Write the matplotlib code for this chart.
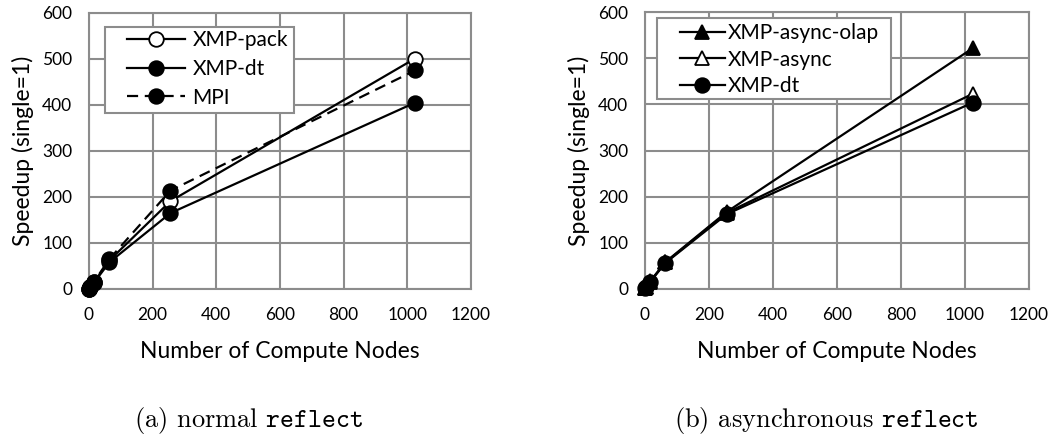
import numpy as np
import matplotlib
matplotlib.use("Agg")
import matplotlib.pyplot as plt
from matplotlib.patches import Rectangle

# compute nodes
nodes = [1, 4, 16, 64, 256, 1024]

# (a) normal reflect
xmp_pack = [1, 4, 15, 62, 191, 501]
xmp_dt = [1, 4, 14, 58, 165, 405]
mpi = [1, 4, 16, 65, 214, 475]

# (b) asynchronous reflect
async_olap = [1, 4, 16, 58, 167, 522]
async_plain = [1, 4, 15, 57, 165, 423]
async_dt = [1, 4, 15, 56, 162, 404]

plt.rcParams["font.family"] = ["Lato", "DejaVu Sans"]
plt.rcParams["mathtext.fontset"] = "cm"

fig = plt.figure(figsize=(10.58, 4.36), dpi=100)
axa = fig.add_axes([0.0841, 0.3372, 0.3611, 0.633])
axb = fig.add_axes([0.6096, 0.3378, 0.3630, 0.634])

GRID = "#8c8c8c"
mk = dict(ms=10.5, mec="black", mew=1.3, clip_on=False, zorder=5)


def style(ax):
    ax.set_xlim(0, 1200); ax.set_ylim(0, 600)
    ax.set_xticks(range(0, 1201, 200)); ax.set_yticks(range(0, 601, 100))
    ax.grid(True, color=GRID, lw=1.5)
    ax.set_axisbelow(True)
    for s in ax.spines.values():
        s.set_color(GRID); s.set_linewidth(1.5)
    ax.tick_params(axis="x", length=0, labelsize=12.5, pad=13)
    ax.tick_params(axis="y", length=0, labelsize=12.5, pad=12)
    ax.set_xlabel("Number of Compute Nodes", fontsize=16.5, labelpad=13)
    ax.set_ylabel("Speedup (single=1)", fontsize=16.5, labelpad=6)


def legend_box(ax, x0, y0, x1, y1):
    ax.add_patch(Rectangle((x0, y0), x1 - x0, y1 - y0, transform=ax.transAxes,
                           facecolor="white", edgecolor=GRID, lw=1.5, zorder=6))


# ---------- (a) ----------
axa.plot(nodes, xmp_pack, "-o", color="black", lw=1.6, mfc="white", label="XMP-pack", **mk)
axa.plot(nodes, xmp_dt, "-o", color="black", lw=1.6, mfc="black", label="XMP-dt", **mk)
axa.plot(nodes, mpi, "--o", color="black", lw=1.6, mfc="black", dashes=(5, 3), label="MPI", **mk)
style(axa)
legend_box(axa, 0.042, 0.638, 0.537, 0.949)
lg = axa.legend(loc="upper left", bbox_to_anchor=(0.0995, 0.938), fontsize=15, handlelength=2.8,
                frameon=False, borderpad=0, borderaxespad=0, labelspacing=0.42, handletextpad=0.35)
lg.set_zorder(7)

# ---------- (b) ----------
axb.plot(nodes, async_olap, "-^", color="black", lw=1.6, mfc="black", label="XMP-async-olap", **mk)
axb.plot(nodes, async_plain, "-^", color="black", lw=1.6, mfc="white", label="XMP-async", **mk)
axb.plot(nodes, async_dt, "-o", color="black", lw=1.6, mfc="black", label="XMP-dt", **mk)
style(axb)
legend_box(axb, 0.031, 0.686, 0.641, 0.979)
lg = axb.legend(loc="upper left", bbox_to_anchor=(0.091, 0.961), fontsize=15, handlelength=2.15,
                frameon=False, borderpad=0, borderaxespad=0, labelspacing=0.32, handletextpad=0.15)
lg.set_zorder(7)

# captions
fig.text(248 / 1058, 0.02, r"(a) normal $\mathtt{reflect}$", fontsize=19, family="cmr10",
         ha="center", va="baseline")
fig.text(826 / 1058, 0.02, r"(b) asynchronous $\mathtt{reflect}$", fontsize=19, family="cmr10",
         ha="center", va="baseline")

fig.savefig("out.png", dpi=100)
